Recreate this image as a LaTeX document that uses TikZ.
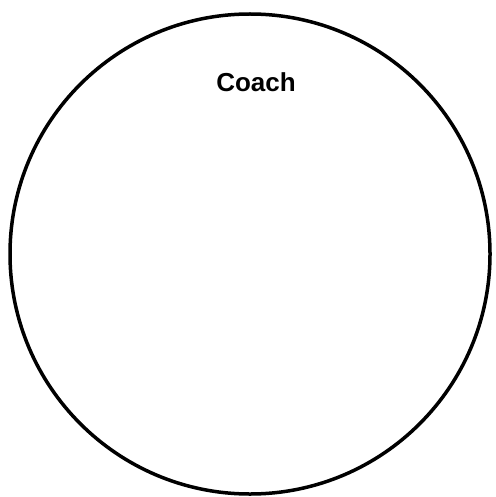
\documentclass[tikz,border=0pt]{standalone}
\usepackage{fontspec}
\setmainfont{Liberation Sans}
\begin{document}
\begin{tikzpicture}[x=1pt,y=-1pt,
  ring/.style={draw=black,line width=3.5pt},
  lbl/.style={font=\fontsize{26}{30}\selectfont\bfseries,inner sep=0pt}]
\useasboundingbox (0,0) rectangle (495,497);
\node[ring,circle,minimum size=480pt,inner sep=0pt] (c) at (250,254) {};
\node[lbl,anchor=base] (t) at (256,92) {Coach};
\end{tikzpicture}
\end{document}
